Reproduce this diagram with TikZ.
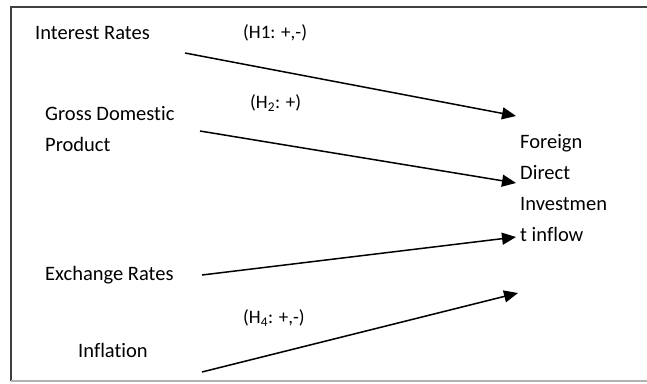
\documentclass[tikz,border=0pt]{standalone}
\usepackage{fontspec}
\setmainfont{Carlito}[Ligatures=NoCommon]
\usetikzlibrary{arrows.meta,positioning}

\begin{document}
\begin{tikzpicture}[x=1pt, y=-1pt,
        factor/.style={anchor=west, inner sep=0pt, align=left, font=\fontsize{20.5}{31}\selectfont},
        hyp/.style={anchor=west, inner sep=0pt, font=\fontsize{19}{20}\selectfont},
        link/.style={-{Triangle[length=14pt,width=12pt]}, line width=1.5pt},
        >=Stealth
    ]
        \useasboundingbox (0,0) rectangle (647,383);
        \draw[line width=2pt, black!75] (647,7) -- (11,7) -- (11,381);
        \draw[line width=1.2pt, black!30] (11,381) -- (647,381);

        \node[factor] (rates) at (35,33) {Interest Rates};
        \node[factor] (gdp) at (45,129) {Gross Domestic\\Product};
        \node[factor] (exch) at (45,275) {Exchange Rates};
        \node[factor] (infl) at (78,350) {Inflation};
        \node[factor] (fdi) at (520,188) {Foreign\\Direct\\Investmen\\t inflow};

        \node[hyp] (h1) at (243,33) {(H1: +,-)};
        \node[hyp] (h2) at (250,103) {(H\textsubscript{2}: +)};
        \node[hyp] (h4) at (243,318) {(H\textsubscript{4}: +,-)};

        \coordinate (rates-out) at (185,53);
        \coordinate (gdp-out) at (200,131);
        \coordinate (exch-out) at (202,275);
        \coordinate (infl-out) at (202,372);
        \coordinate (fdi-in1) at (516,116);
        \coordinate (fdi-in2) at (516,183);
        \coordinate (fdi-in3) at (516,237);
        \coordinate (fdi-in4) at (518,293);

        \draw[link] (rates-out) -- (fdi-in1);
        \draw[link] (gdp-out) -- (fdi-in2);
        \draw[link] (exch-out) -- (fdi-in3);
        \draw[link] (infl-out) -- (fdi-in4);
    \end{tikzpicture}
\end{document}
